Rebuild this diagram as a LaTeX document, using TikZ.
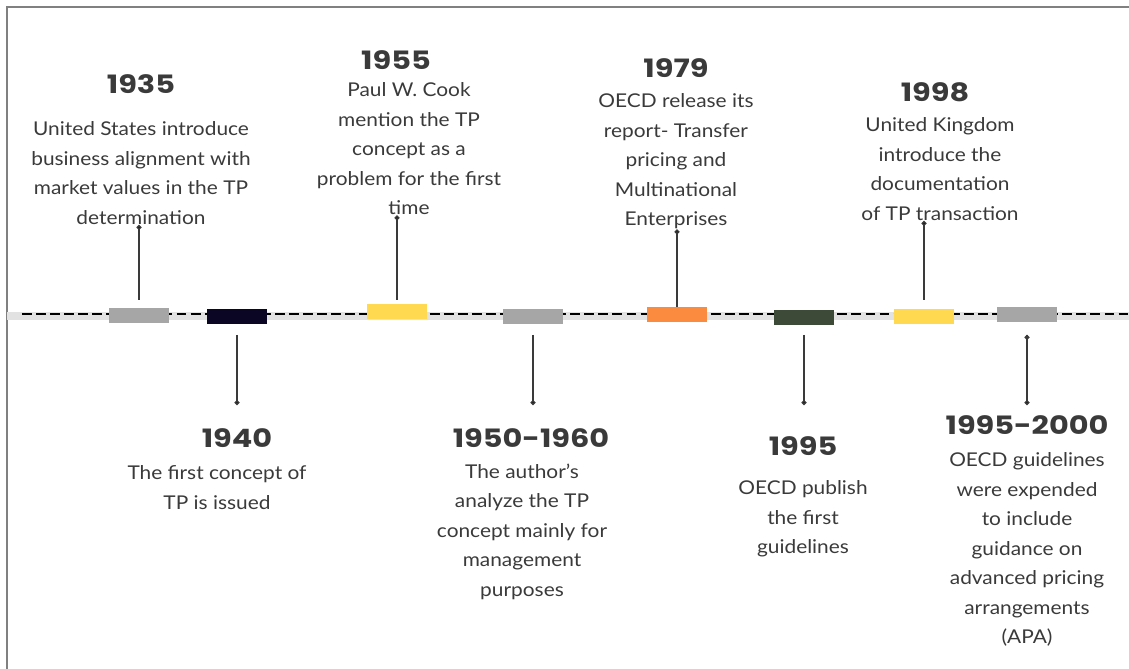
\documentclass[tikz,border=0pt]{standalone}
\usepackage{fontspec}
\setmainfont{Lato}[FakeStretch=1.1]
\newfontfamily\yearfont{Poppins}[FakeStretch=1.2]
\usetikzlibrary{arrows.meta}

\definecolor{txtgray}{HTML}{3A3A3A}
\definecolor{markgray}{HTML}{A6A6A6}
\definecolor{marknavy}{HTML}{0B0624}
\definecolor{markyellow}{HTML}{FFD94F}
\definecolor{markorange}{HTML}{FB8B3E}
\definecolor{markgreen}{HTML}{3E4A38}
\definecolor{bandgray}{HTML}{E2E2E2}

\begin{document}
\begin{tikzpicture}[thick,
  year/.style={text=txtgray,font=\yearfont\bfseries\fontsize{18}{20}\selectfont,inner sep=0pt},
  body/.style={text=txtgray,font=\fontsize{13.5}{21}\selectfont,align=center,inner sep=0pt,anchor=north},
  tick box/.style={minimum width=1.5cm,minimum height=0.375cm,inner sep=0pt},
  stem/.style={draw=txtgray,line width=1pt,-{Circle[length=3.5pt]}}]

  \useasboundingbox (0,0) rectangle (28.225,16.725);

  % frame
  \draw[line width=0.8pt,gray] (0.175,0) -- (0.175,16.55) -- (28.225,16.55);

  % time line
  \coordinate (lstart) at (0.55,8.875);
  \coordinate (lend) at (28.225,8.875);
  \draw[bandgray,line width=6pt] (0.175,8.825) -- (28.225,8.825);
  \draw[black,line width=2pt,dash pattern=on 7pt off 3pt] (lstart) -- (lend);

  \node[tick box,fill=markgray] (m1935) at (3.475,8.825) {};
  \node[tick box,fill=marknavy] (m1940) at (5.925,8.8) {};
  \node[tick box,fill=markyellow] (m1955) at (9.925,8.925) {};
  \node[tick box,fill=markgray] (m1950) at (13.325,8.8) {};
  \node[tick box,fill=markorange] (m1979) at (16.925,8.85) {};
  \node[tick box,fill=markgreen] (m1995) at (20.1,8.775) {};
  \node[tick box,fill=markyellow] (m1998) at (23.1,8.8) {};
  \node[tick box,fill=markgray] (m2000) at (25.675,8.85) {};

  % events above the line
  \node[year] (y1935) at (3.525,14.625) {1935};
  \node[body] (t1935) at (3.525,13.7) {United States introduce\\business alignment with\\market values in the TP\\determination};
  \node[year] (y1955) at (9.9,15.225) {1955};
  \node[body] (t1955) at (10.225,14.675) {Paul W. Cook\\mention the TP\\concept as a\\problem for the first\\time};
  \node[year] (y1979) at (16.9,15.025) {1979};
  \node[body] (t1979) at (16.9,14.4) {OECD release its\\report- Transfer\\pricing and\\Multinational\\Enterprises};
  \node[year] (y1998) at (23.375,14.425) {1998};
  \node[body] (t1998) at (23.5,13.8) {United Kingdom\\introduce the\\documentation\\of TP transaction};

  % events below the line
  \node[year] (y1940) at (5.925,5.775) {1940};
  \node[body] (t1940) at (5.425,5.1) {The first concept of\\TP is issued};
  \node[year] (y1950) at (13.275,5.775) {1950-1960};
  \node[body] (t1950) at (13.05,5.15) {The author's\\analyze the TP\\concept mainly for\\management\\purposes};
  \node[year] (y1995) at (20.075,5.575) {1995};
  \node[body] (t1995) at (20.075,4.725) {OECD publish\\the first\\guidelines};
  \node[year] (y2000) at (25.675,6.1) {1995-2000};
  \node[body] (t2000) at (25.675,5.425) {OECD guidelines\\were expended\\to include\\guidance on\\advanced pricing\\arrangements\\(APA)};

  \coordinate (upstart) at (0,9.225);
  \coordinate (downstart) at (0,8.35);
  \coordinate (downend) at (0,6.6);

  \path[stem]
    (m1935 |- upstart) edge (m1935 |- t1935.south)
    (m1955 |- upstart) edge (m1955 |- t1955.south)
    (m1979.north) edge (m1979 |- t1979.south)
    (m1998 |- upstart) edge (m1998 |- t1998.south)
    (m1940 |- downstart) edge (m1940 |- downend)
    (m1950 |- downstart) edge (m1950 |- downend)
    (m1995 |- downstart) edge (m1995 |- downend)
    (m2000 |- downstart) edge (m2000 |- downend)
    ;
\end{tikzpicture}
\end{document}
